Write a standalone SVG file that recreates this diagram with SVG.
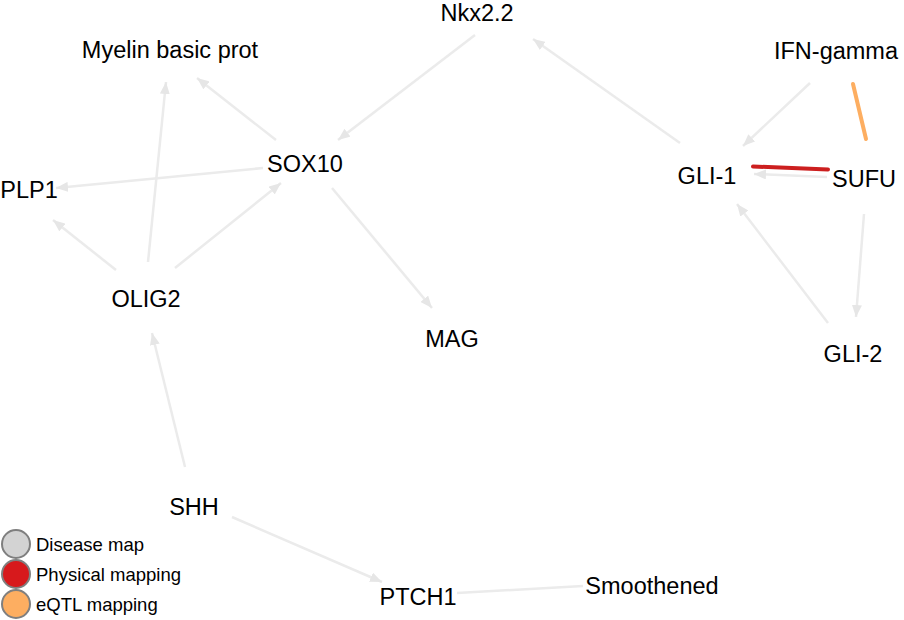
<svg xmlns="http://www.w3.org/2000/svg" width="904" height="620" viewBox="0 0 904 620">
<defs>
<marker id="arr" viewBox="0 0 12 10" refX="12" refY="5" markerWidth="12" markerHeight="10" markerUnits="userSpaceOnUse" orient="auto">
<path d="M0,0 L12,5 L0,10 z" fill="#e6e6e6"/>
</marker>
<style>
.lbl{font-family:"Liberation Sans",Arial,Helvetica,sans-serif;font-size:23.5px;fill:#000;text-anchor:middle}
.leg{font-family:"Liberation Sans",Arial,Helvetica,sans-serif;font-size:18.5px;fill:#000}
.e{stroke:#ebebeb;stroke-width:2.5;fill:none}
.a{marker-end:url(#arr)}
.lc{stroke:#7f7f7f;stroke-width:2}
</style>
</defs>
<rect width="904" height="620" fill="#fff"/>
<g id="connectors">
<line class="e a" x1="680" y1="143" x2="533" y2="39"/>
<line class="e a" x1="475" y1="35" x2="338" y2="140"/>
<line class="e a" x1="276" y1="140" x2="197" y2="78"/>
<line class="e a" x1="263" y1="168" x2="56" y2="188"/>
<line class="e a" x1="332" y1="188" x2="432" y2="308"/>
<line class="e a" x1="116" y1="270" x2="53" y2="220"/>
<line class="e a" x1="148" y1="262" x2="166" y2="82"/>
<line class="e a" x1="175" y1="268" x2="281" y2="183"/>
<line class="e a" x1="185" y1="467" x2="152" y2="333"/>
<line class="e a" x1="232" y1="517" x2="382" y2="582"/>
<line class="e" x1="457" y1="593" x2="583" y2="586"/>
<line class="e a" x1="810" y1="83" x2="743" y2="146"/>
<line class="e a" x1="827" y1="177" x2="754" y2="174"/>
<line x1="753" y1="166.5" x2="828" y2="169.5" stroke="#cc1f1f" stroke-width="4" stroke-linecap="round"/>
<line x1="853" y1="84" x2="866" y2="139" stroke="#fdae61" stroke-width="4" stroke-linecap="round"/>
<line class="e a" x1="864" y1="214" x2="856" y2="317"/>
<line class="e a" x1="828" y1="323" x2="737" y2="204"/>
</g>
<g id="Nkx2.2"><text class="lbl" x="477" y="21">Nkx2.2</text></g>
<g id="MBP"><text class="lbl" x="170" y="58">Myelin basic prot</text></g>
<g id="IFN-gamma"><text class="lbl" x="836" y="59">IFN-gamma</text></g>
<g id="SOX10"><text class="lbl" x="305" y="172">SOX10</text></g>
<g id="GLI-1"><text class="lbl" x="707" y="184">GLI-1</text></g>
<g id="SUFU"><text class="lbl" x="864" y="187">SUFU</text></g>
<g id="PLP1"><text class="lbl" x="29" y="198">PLP1</text></g>
<g id="OLIG2"><text class="lbl" x="146" y="307">OLIG2</text></g>
<g id="MAG"><text class="lbl" x="452" y="347">MAG</text></g>
<g id="GLI-2"><text class="lbl" x="853" y="362">GLI-2</text></g>
<g id="SHH"><text class="lbl" x="194" y="515">SHH</text></g>
<g id="PTCH1"><text class="lbl" x="418" y="605">PTCH1</text></g>
<g id="Smoothened"><text class="lbl" x="652" y="594">Smoothened</text></g>
<g id="legend">
<circle class="lc" cx="16" cy="544" r="14" fill="#d3d3d3"/>
<circle class="lc" cx="16" cy="574" r="14" fill="#d7191c"/>
<circle class="lc" cx="16" cy="604" r="14" fill="#fdae61"/>
<text class="leg" x="36" y="551">Disease map</text>
<text class="leg" x="36" y="581">Physical mapping</text>
<text class="leg" x="36" y="611">eQTL mapping</text>
</g>
</svg>
